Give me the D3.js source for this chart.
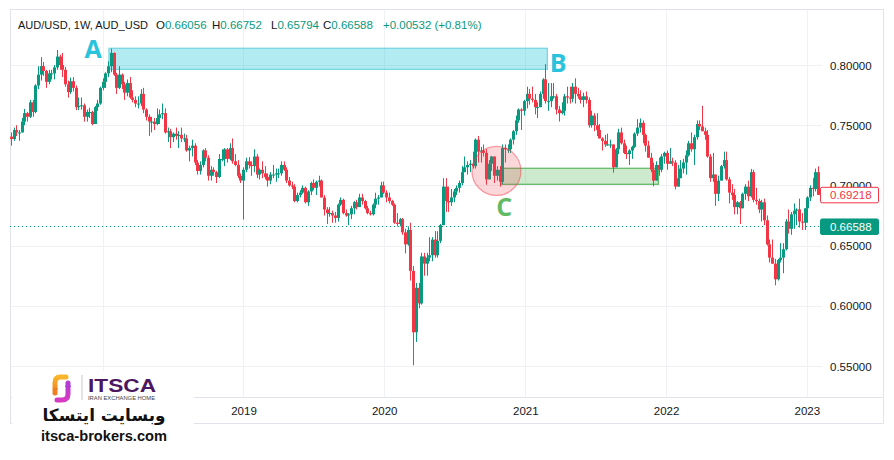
<!DOCTYPE html>
<html><head><meta charset="utf-8">
<script src="https://cdn.jsdelivr.net/npm/d3@7"></script>
<style>body{margin:0;background:#fff;} svg{display:block;}</style>
</head><body>
<svg id="c" width="894" height="460"></svg>
<script>
// ---------- DATA ----------
const firstWeek = "2017-05-08";
const firstOpen = 0.7405;
const closes = [
0.7385,0.7460,0.7440,0.7440,0.7530,0.7600,0.7570,0.7690,0.7610,0.7830,0.7920,0.7990,0.7950,0.7860,0.7930,0.7930,0.7980,0.8070,0.8000,0.7960,
0.7840,0.7775,0.7865,0.7810,0.7650,0.7660,0.7665,0.7570,0.7610,0.7610,0.7510,0.7650,0.7680,0.7810,0.7860,0.7930,0.7990,0.8100,0.7920,0.7810,
0.7920,0.7840,0.7770,0.7850,0.7730,0.7710,0.7680,0.7680,0.7760,0.7630,0.7570,0.7530,0.7530,0.7510,0.7560,0.7590,0.7600,0.7440,0.7450,0.7400,
0.7430,0.7410,0.7420,0.7390,0.7390,0.7290,0.7310,0.7330,0.7190,0.7120,0.7170,0.7290,0.7230,0.7080,0.7130,0.7110,0.7070,0.7220,0.7220,0.7300,
0.7220,0.7310,0.7200,0.7170,0.7080,0.7040,0.7130,0.7200,0.7170,0.7160,0.7240,0.7090,0.7130,0.7100,0.7070,0.7040,0.7090,0.7090,0.7100,0.7100,
0.7170,0.7130,0.7040,0.7000,0.6990,0.6870,0.6920,0.6940,0.6980,0.6860,0.6950,0.7020,0.6980,0.7030,0.7040,0.6900,0.6800,0.6770,0.6770,0.6750,
0.6730,0.6840,0.6880,0.6770,0.6750,0.6760,0.6810,0.6860,0.6820,0.6900,0.6870,0.6810,0.6770,0.6760,0.6840,0.6890,0.6900,0.7000,0.6940,0.6900,
0.6870,0.6840,0.6690,0.6680,0.6720,0.6610,0.6510,0.6630,0.6290,0.5780,0.6150,0.6020,0.6410,0.6350,0.6400,0.6420,0.6550,0.6420,0.6540,0.6670,
0.6990,0.6870,0.6860,0.6900,0.6950,0.6980,0.7020,0.7110,0.7150,0.7170,0.7180,0.7160,0.7380,0.7280,0.7290,0.7270,0.7050,0.7180,0.7240,0.7080,
0.7130,0.7030,0.7310,0.7300,0.7300,0.7380,0.7450,0.7540,0.7630,0.7620,0.7700,0.7760,0.7720,0.7710,0.7650,0.7650,0.7760,0.7880,0.7700,0.7700,
0.7740,0.7740,0.7630,0.7600,0.7620,0.7740,0.7730,0.7720,0.7820,0.7760,0.7740,0.7710,0.7740,0.7710,0.7500,0.7580,0.7500,0.7460,0.7390,0.7370,
0.7340,0.7340,0.7340,0.7150,0.7300,0.7440,0.7350,0.7270,0.7260,0.7290,0.7320,0.7430,0.7480,0.7520,0.7420,0.7330,0.7230,0.7130,0.7040,0.7170,
0.7130,0.7240,0.7270,0.7180,0.7200,0.7190,0.6990,0.7060,0.7140,0.7190,0.7250,0.7350,0.7300,0.7400,0.7510,0.7490,0.7450,0.7420,0.7240,0.7060,
0.7090,0.6930,0.7040,0.7160,0.7210,0.7050,0.6940,0.6920,0.6820,0.6860,0.6810,0.6930,0.6990,0.6910,0.7110,0.6880,0.6870,0.6800,0.6860,0.6710,
0.6510,0.6400,0.6350,0.6220,0.6380,0.6400,0.6470,0.6700,0.6640,0.6760,0.6790,0.6800,0.6700,0.6690,0.6810,0.6900,0.6980,0.6970,0.7110,0.69218];
const highs = [
0.7440,0.7480,0.7500,0.7460,0.7560,0.7635,0.7610,0.7710,0.7710,0.7840,0.7990,0.8065,0.8025,0.7960,0.7960,0.7960,0.8000,0.8125,0.8085,0.8100,
0.7985,0.7870,0.7895,0.7900,0.7830,0.7730,0.7730,0.7680,0.7630,0.7645,0.7620,0.7660,0.7710,0.7820,0.7890,0.7940,0.8030,0.8136,0.8105,0.7935,
0.7990,0.7930,0.7860,0.7880,0.7900,0.7790,0.7740,0.7740,0.7800,0.7810,0.7640,0.7590,0.7570,0.7560,0.7640,0.7630,0.7680,0.7640,0.7480,0.7470,
0.7440,0.7480,0.7450,0.7480,0.7430,0.7420,0.7330,0.7380,0.7350,0.7210,0.7200,0.7300,0.7310,0.7250,0.7160,0.7150,0.7120,0.7260,0.7300,0.7310,
0.7310,0.7350,0.7390,0.7260,0.7210,0.7100,0.7150,0.7230,0.7235,0.7200,0.7300,0.7260,0.7140,0.7200,0.7160,0.7100,0.7110,0.7170,0.7140,0.7140,
0.7200,0.7200,0.7150,0.7070,0.7030,0.7010,0.6940,0.6960,0.7000,0.6990,0.6960,0.7030,0.7050,0.7040,0.7080,0.7050,0.6920,0.6820,0.6820,0.6790,
0.6780,0.6850,0.6900,0.6890,0.6800,0.6770,0.6830,0.6870,0.6880,0.6930,0.6930,0.6880,0.6830,0.6790,0.6850,0.6940,0.6920,0.7030,0.7032,0.6960,
0.6940,0.6880,0.6850,0.6770,0.6730,0.6730,0.6640,0.6660,0.6690,0.6330,0.6190,0.6190,0.6440,0.6440,0.6440,0.6570,0.6570,0.6620,0.6620,0.6680,
0.7060,0.7060,0.6990,0.6970,0.6970,0.7000,0.7040,0.7160,0.7240,0.7200,0.7210,0.7280,0.7390,0.7410,0.7320,0.7340,0.7300,0.7210,0.7245,0.7240,
0.7160,0.7160,0.7340,0.7340,0.7340,0.7390,0.7460,0.7580,0.7640,0.7640,0.7710,0.7820,0.7800,0.7820,0.7760,0.7690,0.7780,0.7890,0.8007,0.7850,
0.7850,0.7850,0.7760,0.7660,0.7690,0.7760,0.7820,0.7820,0.7850,0.7890,0.7810,0.7790,0.7770,0.7780,0.7730,0.7620,0.7600,0.7600,0.7510,0.7400,
0.7420,0.7430,0.7380,0.7340,0.7310,0.7470,0.7480,0.7380,0.7330,0.7300,0.7330,0.7440,0.7550,0.7556,0.7540,0.7430,0.7370,0.7270,0.7190,0.7200,
0.7230,0.7260,0.7280,0.7290,0.7310,0.7230,0.7210,0.7170,0.7210,0.7220,0.7290,0.7370,0.7440,0.7420,0.7540,0.7540,0.7661,0.7480,0.7460,0.7260,
0.7270,0.7090,0.7080,0.7170,0.7280,0.7280,0.7070,0.7010,0.6970,0.6870,0.6870,0.6940,0.7010,0.7040,0.7137,0.7130,0.6980,0.6890,0.6880,0.6890,
0.6750,0.6550,0.6550,0.6390,0.6390,0.6520,0.6520,0.6720,0.6800,0.6780,0.6850,0.6810,0.6890,0.6770,0.6810,0.6910,0.7000,0.7060,0.7140,0.7158];
const lows = [
0.7330,0.7370,0.7410,0.7370,0.7440,0.7500,0.7530,0.7560,0.7570,0.7600,0.7800,0.7870,0.7910,0.7810,0.7840,0.7880,0.7880,0.7960,0.7960,0.7900,
0.7820,0.7730,0.7760,0.7780,0.7625,0.7625,0.7630,0.7530,0.7530,0.7560,0.7500,0.7510,0.7620,0.7670,0.7790,0.7810,0.7900,0.7940,0.7910,0.7760,
0.7800,0.7800,0.7710,0.7740,0.7720,0.7690,0.7650,0.7640,0.7660,0.7600,0.7540,0.7410,0.7440,0.7460,0.7500,0.7510,0.7550,0.7430,0.7360,0.7310,
0.7360,0.7380,0.7310,0.7360,0.7360,0.7280,0.7200,0.7240,0.7170,0.7090,0.7090,0.7150,0.7200,0.7040,0.7040,0.7080,0.7020,0.7060,0.7200,0.7160,
0.7190,0.7210,0.7180,0.7160,0.7060,0.7020,0.6716,0.7110,0.7140,0.7080,0.7110,0.7060,0.7050,0.7060,0.7050,0.6990,0.7010,0.7060,0.7030,0.7060,
0.7080,0.7120,0.7020,0.6990,0.6970,0.6860,0.6860,0.6900,0.6930,0.6850,0.6830,0.6920,0.6960,0.6920,0.6990,0.6900,0.6750,0.6680,0.6740,0.6690,
0.6690,0.6700,0.6830,0.6760,0.6740,0.6670,0.6720,0.6760,0.6800,0.6830,0.6840,0.6800,0.6760,0.6750,0.6750,0.6810,0.6840,0.6900,0.6930,0.6860,
0.6850,0.6830,0.6680,0.6660,0.6660,0.6590,0.6435,0.6500,0.6210,0.5506,0.5700,0.5980,0.6010,0.6250,0.6250,0.6370,0.6370,0.6400,0.6400,0.6520,
0.6690,0.6780,0.6780,0.6830,0.6860,0.6920,0.6940,0.7000,0.7110,0.7090,0.7110,0.7140,0.7140,0.7190,0.7190,0.7240,0.7006,0.7060,0.7120,0.7020,
0.7040,0.6990,0.7010,0.7190,0.7270,0.7270,0.7340,0.7420,0.7520,0.7460,0.7580,0.7640,0.7670,0.7690,0.7590,0.7560,0.7650,0.7720,0.7680,0.7620,
0.7650,0.7720,0.7590,0.7530,0.7590,0.7580,0.7680,0.7680,0.7690,0.7680,0.7720,0.7680,0.7650,0.7680,0.7480,0.7480,0.7450,0.7410,0.7390,0.7290,
0.7320,0.7330,0.7310,0.7106,0.7150,0.7260,0.7340,0.7260,0.7220,0.7170,0.7220,0.7310,0.7410,0.7440,0.7350,0.7280,0.7230,0.7110,0.6993,0.7050,
0.7080,0.7110,0.7180,0.7130,0.7190,0.7160,0.6967,0.6990,0.7070,0.7100,0.7090,0.7240,0.7280,0.7170,0.7380,0.7460,0.7450,0.7380,0.7230,0.7030,
0.7030,0.6830,0.6870,0.7040,0.7140,0.7040,0.6850,0.6880,0.6760,0.6760,0.6680,0.6810,0.6880,0.6870,0.6900,0.6860,0.6840,0.6770,0.6700,0.6670,
0.6500,0.6360,0.6350,0.6170,0.6210,0.6360,0.6270,0.6460,0.6600,0.6590,0.6640,0.6670,0.6650,0.6630,0.6630,0.6690,0.6870,0.6910,0.6950,0.6920];
const gridYears = ["2018","2019","2020","2021","2022","2023"];
const yearLabels = ["2019","2020","2021","2022","2023"];
const priceTicks = [0.55, 0.60, 0.65, 0.70, 0.75, 0.80];
const headerTitle = "AUD/USD, 1W, AUD_USD";
const headerOHLC = [["O","0.66056"],["H","0.66752"],["L","0.65794"],["C","0.66588"]];
const headerChange = "+0.00532 (+0.81%)";
const lastPrice = 0.69218;
const markerPrice = 0.66588;
const zoneAB = {from:"2018-01-17", to:"2021-02-27", lo:0.7964, hi:0.8139};
const zoneC  = {from:"2020-10-30", to:"2021-12-12", lo:0.7009, hi:0.7142};
const circleC = {date:"2020-10-18", price:0.712};
const letters = [
  {t:"A", date:"2017-12-07", price:0.8058, color:"#2bc3dc"},
  {t:"B", date:"2021-03-27", price:0.7942, color:"#2bc3dc"},
  {t:"C", date:"2020-11-07", price:0.6746, color:"#62bb64"}
];

// ---------- BUILD ----------
const parse = d3.utcParse("%Y-%m-%d");
const d0 = parse(firstWeek);
const candles = closes.map((c,i)=>{
  const o = i===0 ? firstOpen : closes[i-1];
  return {date:d3.utcWeek.offset(d0,i), o, c,
    h:Math.max(highs[i],o,c), l:Math.min(lows[i],o,c)};
});
const UP="#089981", DOWN="#f23645";
const svg = d3.select("#c");
const plotL=10, plotR=822, plotT=9, plotB=397, axisB=423, frameR=883;

const x = d3.scaleUtc().domain([d0, candles[candles.length-1].date]).range([11, 818]);
const y = d3.scaleLinear().domain([0.55, 0.80]).range([366, 65]);
const fmtY = d3.utcFormat("%Y");

svg.append("rect").attr("width",894).attr("height",460).attr("fill","#fff");

// grid
const allYears = x.ticks(d3.utcYear.every(1));
const gridTicks = allYears.filter(d=>gridYears.includes(fmtY(d)));
const labelTicks = allYears.filter(d=>yearLabels.includes(fmtY(d)));
svg.append("g").selectAll("line").data(gridTicks).join("line")
  .attr("x1",d=>Math.round(x(d))+0.5).attr("x2",d=>Math.round(x(d))+0.5)
  .attr("y1",plotT).attr("y2",plotB).attr("stroke","#eff1f4");
svg.append("g").selectAll("line").data(priceTicks).join("line")
  .attr("x1",plotL).attr("x2",plotR)
  .attr("y1",d=>Math.round(y(d))+0.5).attr("y2",d=>Math.round(y(d))+0.5).attr("stroke","#eff1f4");

// frame
const fr = svg.append("g").attr("stroke","#e0e3eb").attr("fill","none");
fr.append("rect").attr("x",plotL+0.5).attr("y",plotT+0.5).attr("width",frameR-plotL).attr("height",axisB-plotT);
fr.append("line").attr("x1",plotL).attr("x2",frameR).attr("y1",plotB+0.5).attr("y2",plotB+0.5);

// zones
svg.append("rect")
  .attr("x",x(parse(zoneAB.from))).attr("width",x(parse(zoneAB.to))-x(parse(zoneAB.from)))
  .attr("y",y(zoneAB.hi)).attr("height",y(zoneAB.lo)-y(zoneAB.hi))
  .attr("fill","rgba(0,188,212,0.3)").attr("stroke","#6fd6e4").attr("stroke-width",1.2);
svg.append("rect")
  .attr("x",x(parse(zoneC.from))).attr("width",x(parse(zoneC.to))-x(parse(zoneC.from)))
  .attr("y",y(zoneC.hi)).attr("height",y(zoneC.lo)-y(zoneC.hi))
  .attr("fill","rgba(76,175,80,0.28)").attr("stroke","#66bb6a").attr("stroke-width",1.3);

// marker dotted line
svg.append("line").attr("x1",plotL).attr("x2",plotR)
  .attr("y1",Math.round(y(markerPrice))+0.5).attr("y2",Math.round(y(markerPrice))+0.5)
  .attr("stroke",UP).attr("stroke-dasharray","1.2,2.8");

// candles
const cg = svg.append("g");
const cs = cg.selectAll("g").data(candles).join("g");
cs.append("rect")
  .attr("x",d=>Math.round(x(d.date)))
  .attr("width",1)
  .attr("y",d=>y(d.h)).attr("height",d=>Math.max(1,y(d.l)-y(d.h)))
  .attr("fill",d=>d.c>=d.o?UP:DOWN);
cs.append("rect")
  .attr("x",d=>Math.round(x(d.date))-1)
  .attr("width",3)
  .attr("y",d=>y(Math.max(d.o,d.c))).attr("height",d=>Math.max(1,Math.abs(y(d.o)-y(d.c))))
  .attr("fill",d=>d.c>=d.o?UP:DOWN);

// circle
svg.append("circle").attr("cx",x(parse(circleC.date))).attr("cy",y(circleC.price)).attr("r",24.5)
  .attr("fill","rgba(242,54,69,0.2)").attr("stroke","rgba(242,54,69,0.45)").attr("stroke-width",1.3);

// letters
svg.append("g").selectAll("text").data(letters).join("text")
  .attr("x",d=>x(parse(d.date))).attr("y",d=>y(d.price))
  .attr("text-anchor","middle").attr("font-family","'Open Sans', 'DejaVu Sans', sans-serif")
  .attr("font-weight","700").attr("font-size",25).attr("fill",d=>d.color).text(d=>d.t);

// price axis
const yAxis = d3.axisRight(y).tickValues(priceTicks).tickFormat(d3.format(".5f")).tickSize(0).tickPadding(0);
const ya = svg.append("g").attr("transform",`translate(830,0)`).call(yAxis);
ya.select(".domain").remove();
ya.selectAll("text").attr("font-family","'Liberation Sans', Arial, sans-serif").attr("font-size",11.5).attr("fill","#131722").attr("dy","0.35em");

// time axis
const xAxis = d3.axisBottom(x).tickValues(labelTicks).tickFormat(fmtY).tickSize(0).tickPadding(0);
const xa = svg.append("g").attr("transform",`translate(0,${plotB})`).call(xAxis);
xa.select(".domain").remove();
xa.selectAll("text").attr("font-family","'Liberation Sans', Arial, sans-serif").attr("font-size",11.5).attr("fill","#131722").attr("dy","18");

// price labels
function priceTag(v, fill, stroke, color){
  const g = svg.append("g");
  g.append("rect").attr("x",820.5).attr("y",y(v)-7.5).attr("width",58).attr("height",15.5).attr("rx",1.5)
    .attr("fill",fill).attr("stroke",stroke);
  g.append("text").attr("x",830).attr("y",y(v)).attr("dy","0.36em")
    .attr("font-family","'Liberation Sans', Arial, sans-serif").attr("font-size",11.5).attr("fill",color)
    .text(d3.format(".5f")(v));
}
priceTag(lastPrice,"#fff",DOWN,DOWN);
priceTag(markerPrice,UP,UP,"#fff");

// header
const hf = "'Liberation Sans', Arial, sans-serif";
const hy = 28.5;
svg.append("text").attr("x",18).attr("y",hy).attr("font-family",hf).attr("font-size",11.5).attr("fill","#131722")
  .attr("textLength",130).attr("lengthAdjust","spacingAndGlyphs").text(headerTitle);
const hx = [156,212,271,323];
headerOHLC.forEach((p,i)=>{
  const t = svg.append("text").attr("x",hx[i]).attr("y",hy).attr("font-family",hf).attr("font-size",11.5);
  t.append("tspan").attr("fill","#131722").text(p[0]);
  t.append("tspan").attr("fill",UP).text(p[1]);
});
svg.append("text").attr("x",383).attr("y",hy).attr("font-family",hf).attr("font-size",11.5).attr("fill",UP).text(headerChange);

// logo
const lg = svg.append("g");
lg.append("rect").attr("x",12).attr("y",371).attr("width",182).attr("height",89).attr("fill","#fff");
const defs = svg.append("defs");
const g1 = defs.append("linearGradient").attr("id","go").attr("x1",0).attr("y1",0).attr("x2",0).attr("y2",1);
g1.append("stop").attr("offset",0).attr("stop-color","#f7b62b");
g1.append("stop").attr("offset",1).attr("stop-color","#ef7d22");
const g2 = defs.append("linearGradient").attr("id","gp").attr("x1",0).attr("y1",0).attr("x2",0).attr("y2",1);
g2.append("stop").attr("offset",0).attr("stop-color","#b23bd1");
g2.append("stop").attr("offset",1).attr("stop-color","#d63ac0");
lg.append("path").attr("d","M66 377 L60 377 Q55 377 55 383 L55 393").attr("fill","none").attr("stroke","url(#go)").attr("stroke-width",5).attr("stroke-linecap","round");
lg.append("path").attr("d","M53 388 L55 394 L58 388").attr("fill","#ef7d22");
lg.append("path").attr("d","M68 383 L68 394 Q68 400 62 400 L57 400").attr("fill","none").attr("stroke","url(#gp)").attr("stroke-width",5).attr("stroke-linecap","round");
lg.append("path").attr("d","M65 387 L68 381 L71 387").attr("fill","#b23bd1");
lg.append("line").attr("x1",82).attr("x2",82).attr("y1",375).attr("y2",400).attr("stroke","#bbb").attr("stroke-width",0.8);
lg.append("text").attr("x",88).attr("y",392).attr("font-family","'Liberation Sans', Arial, sans-serif").attr("font-weight","700")
  .attr("font-size",18).attr("fill","#4a1760").attr("textLength",68).attr("lengthAdjust","spacingAndGlyphs").text("ITSCA");
lg.append("text").attr("x",88).attr("y",400).attr("font-family","'Liberation Sans', Arial, sans-serif")
  .attr("font-size",4.6).attr("fill","#444").attr("textLength",67).attr("lengthAdjust","spacingAndGlyphs").text("IRAN EXCHANGE HOME");
const fa = lg.append("text").attr("x",104).attr("y",421).attr("text-anchor","middle")
  .attr("font-family","'DejaVu Sans', 'Noto Sans', sans-serif").attr("font-weight","700")
  .attr("font-size",20).attr("fill","#111").text("وبسایت ایتسکا");
const fw = fa.node().getComputedTextLength();
if (fw > 0) fa.attr("font-size", 20*123/fw);
const ws = lg.append("text").attr("x",104).attr("y",441).attr("text-anchor","middle")
  .attr("font-family","'Liberation Sans', Arial, sans-serif").attr("font-weight","700")
  .attr("font-size",15).attr("fill","#111").text("itsca-brokers.com");
const ww = ws.node().getComputedTextLength();
if (ww > 0) ws.attr("font-size", 15*126/ww);
</script>
</body></html>
